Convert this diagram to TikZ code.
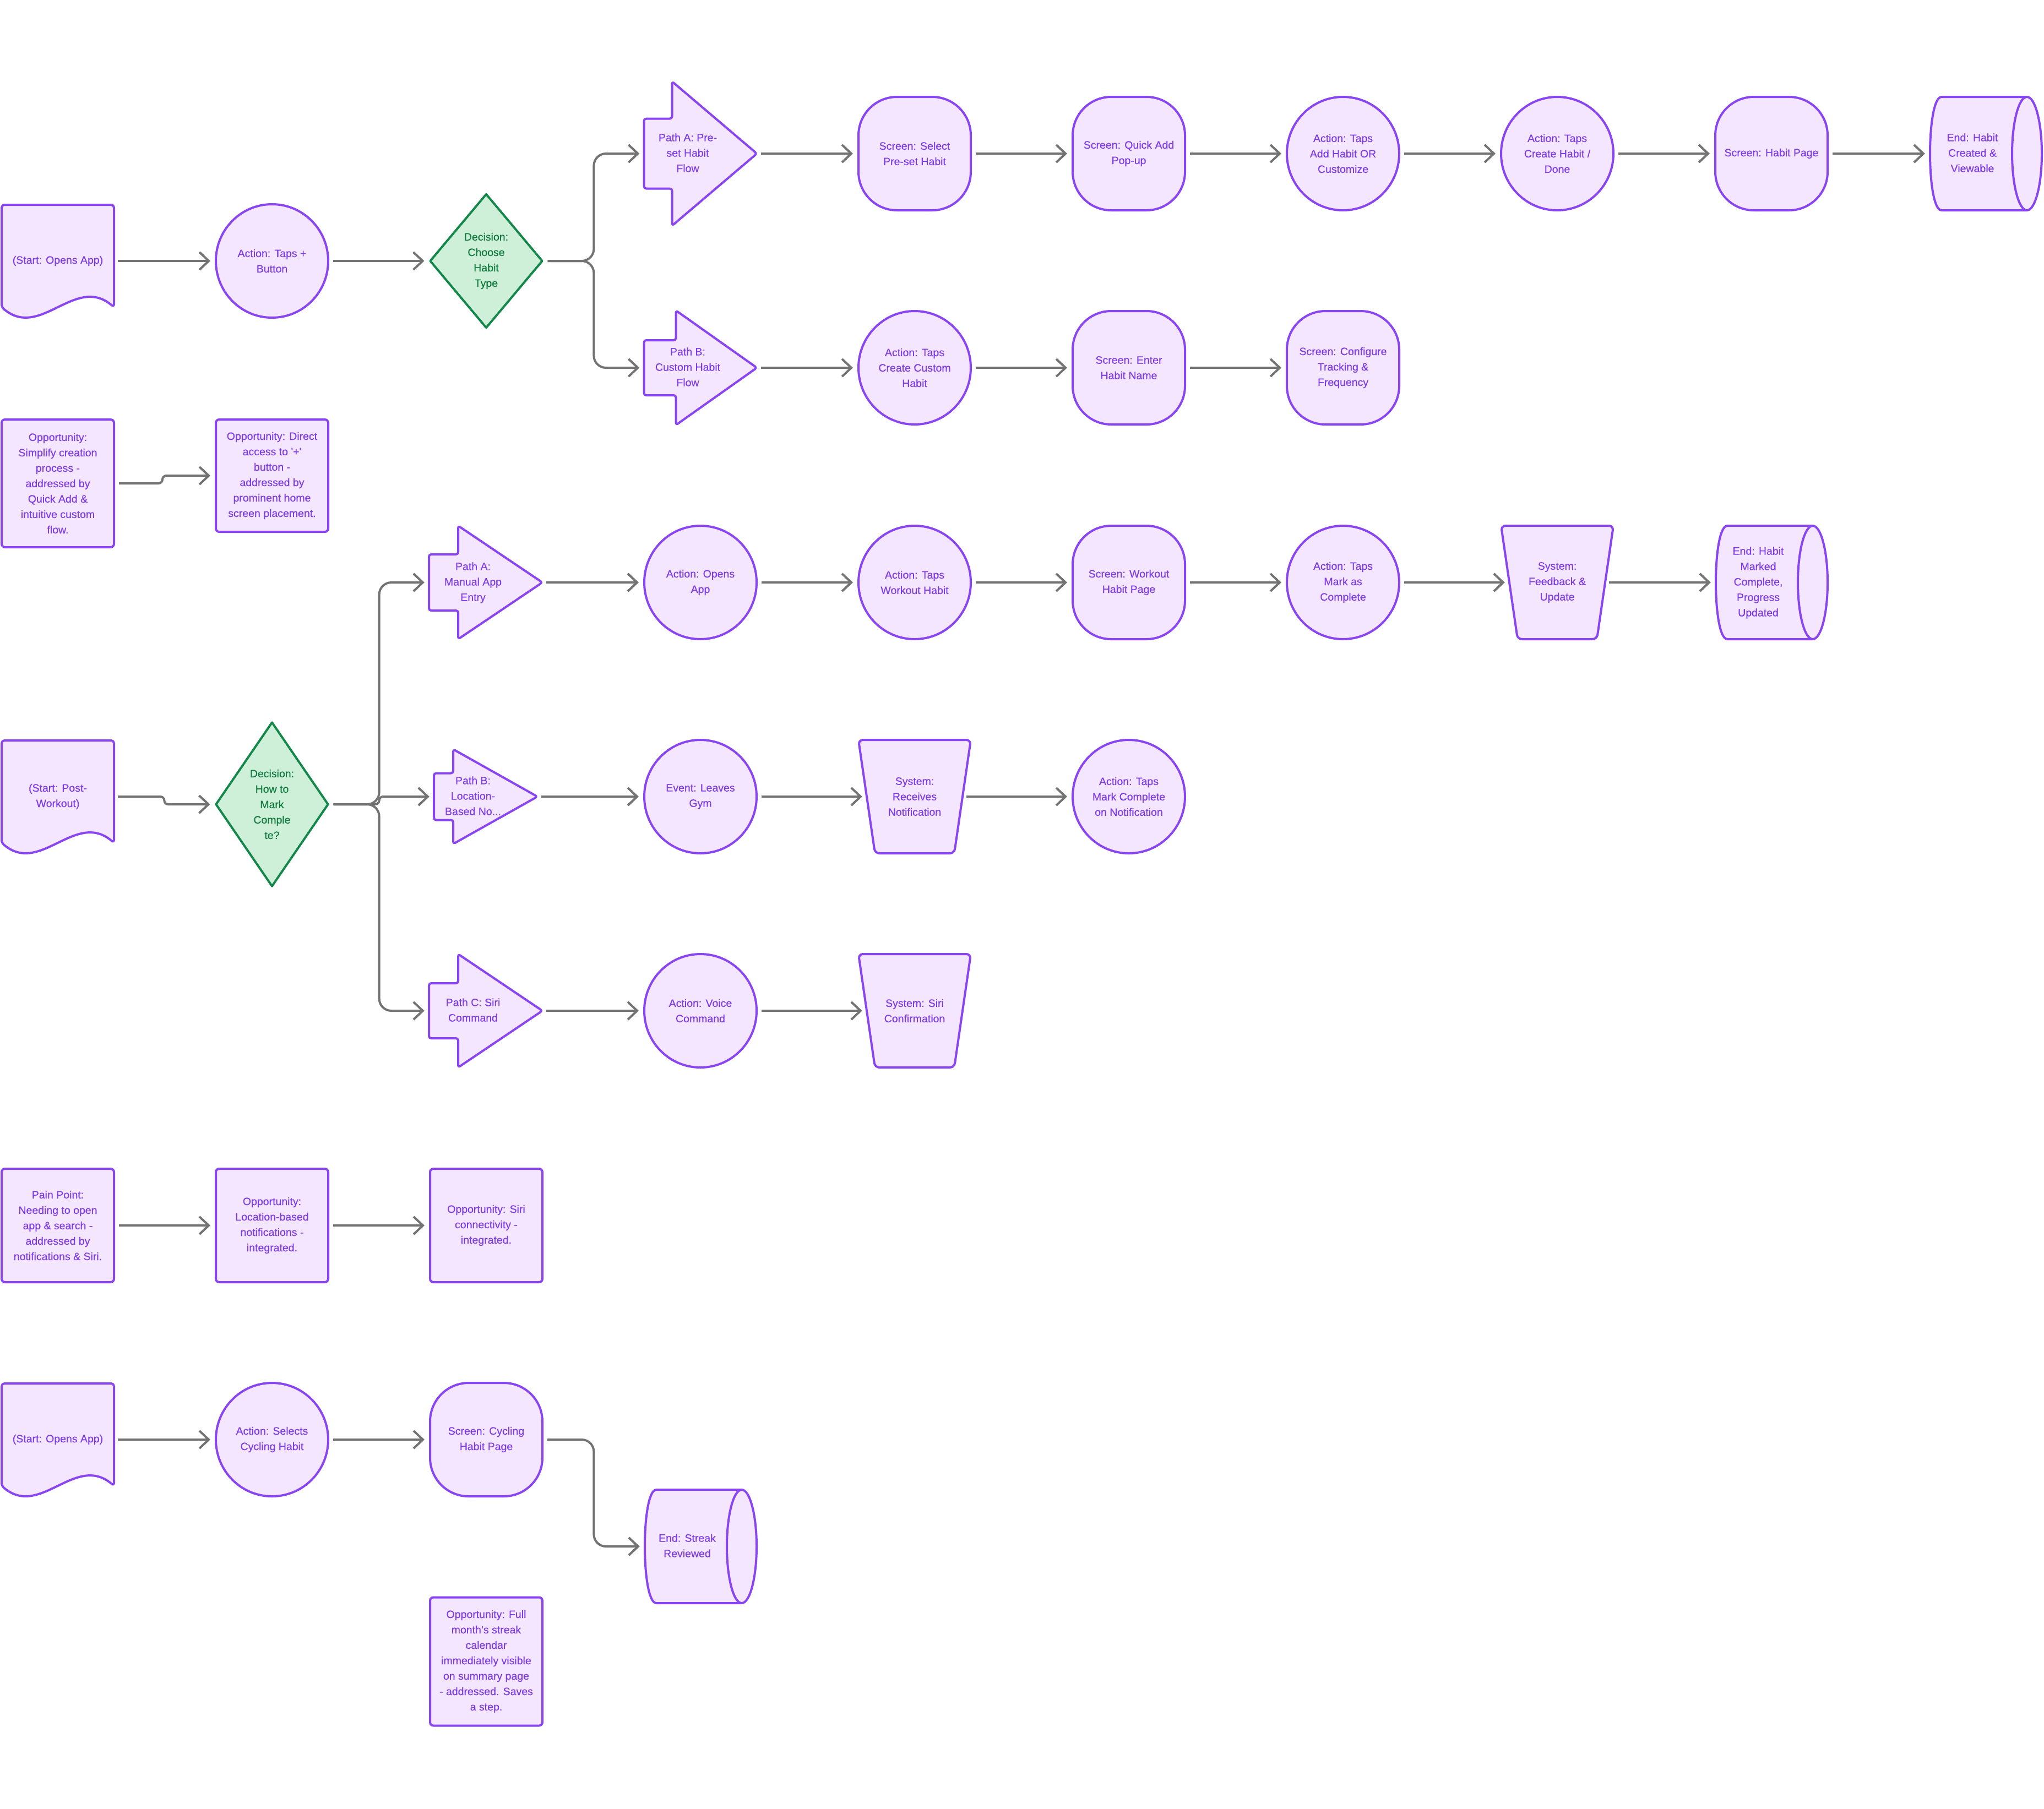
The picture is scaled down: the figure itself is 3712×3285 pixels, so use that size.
\documentclass[tikz,border=0pt]{standalone}
\usepackage{fontspec}
\setmainfont{Liberation Sans}
\newfontfamily\diagfont{Liberation Sans}[FakeBold=0.35]
\usetikzlibrary{shapes.geometric,arrows.meta,calc}
\definecolor{vborder}{HTML}{8A45F3}
\definecolor{vfill}{HTML}{F3E6FE}
\definecolor{vtext}{HTML}{7D3CE6}
\definecolor{gborder}{HTML}{13884A}
\definecolor{gfill}{HTML}{CFF0D8}
\definecolor{gtext}{HTML}{0F7A3D}
\definecolor{conn}{HTML}{737373}
\tikzset{
  base/.style={font=\diagfont\fontsize{19.5}{28}\selectfont, align=center, inner sep=0pt, text=vtext},
  shapeline/.style={draw=vborder, fill=vfill, line width=4pt, line join=round},
  circ/.style={base, shapeline, ellipse, minimum width=204pt, minimum height=206pt},
  scr/.style={base, shapeline, rectangle, rounded corners=70pt, minimum width=204pt, minimum height=206pt},
  note/.style={base, shapeline, rectangle, rounded corners=6pt, minimum width=204pt},
  decide/.style={base, diamond, draw=gborder, fill=gfill, line width=4pt, line join=round, text=gtext, minimum width=205pt},
  holder/.style={base, rectangle, minimum width=204pt, minimum height=206pt},
  link/.style={draw=conn, line width=4pt, -{Straight Barb[length=17pt,width=32pt]}, shorten <=7pt, shorten >=8pt, rounded corners=22pt},
}
% #1 name, #2 cx, #3 cy, #4 halfW, #5 halfH, #6 shaft half height, #7 shaft width, #8 text
\newcommand\blockarrow[8]{%
  \filldraw[shapeline, rounded corners=4pt] (#2-#4,#3-#6) -- (#2-#4+#7,#3-#6) -- (#2-#4+#7,#3-#5) -- (#2+#4,#3) -- (#2-#4+#7,#3+#5) -- (#2-#4+#7,#3+#6) -- (#2-#4,#3+#6) -- cycle;
  \node[holder, minimum width=2*#4pt, minimum height=2*#5pt] (#1) at (#2,#3) {\begin{tabular}{@{}c@{}}#8\end{tabular}\hspace*{46pt}};
}
\newcommand\docnode[4]{%
  \filldraw[shapeline, rounded corners=5pt] (#2-102,#3-102) -- (#2+102,#3-102) -- (#2+102,#3+84) .. controls (#2+32,#3+24) and (#2-32,#3+144) .. (#2-102,#3+84) -- cycle;
  \node[holder, minimum height=204pt] (#1) at (#2,#3) {#4};
}
\newcommand\cylnode[4]{%
  \filldraw[shapeline] (#2+75,#3-103) -- (#2-80,#3-103) .. controls (#2-108,#3-103) and (#2-108,#3+103) .. (#2-80,#3+103) -- (#2+75,#3+103);
  \filldraw[shapeline] (#2+75,#3) ellipse [x radius=27pt, y radius=103pt];
  \node[holder] (#1) at (#2,#3) {\begin{tabular}{@{}c@{}}#4\end{tabular}\hspace*{48pt}};
}
\newcommand\trapnode[4]{%
  \filldraw[shapeline, rounded corners=8pt] (#2-102,#3-103) -- (#2+102,#3-103) -- (#2+72,#3+103) -- (#2-72,#3+103) -- cycle;
  \node[holder, minimum width=174pt] (#1) at (#2,#3) {#4};
}
\begin{document}
\begin{tikzpicture}[x=1pt,y=-1pt]
\fill[white] (0,0) rectangle (3712,3285);
\useasboundingbox (0,0) rectangle (3712,3285);

% ---------- Section 1: create habit ----------
\docnode{s1}{105}{474}{(Start: Opens App)}
\node[circ] (a1) at (494,474) {Action: Taps +\\Button};
\node[decide, minimum height=244pt, aspect=0.84] (d1) at (883,474) {Decision:\\Choose\\Habit\\Type};
\blockarrow{pA}{1272}{279}{102.5}{131}{63.5}{51}{Path A: Pre-\\set Habit\\Flow}
\blockarrow{pB}{1272}{668}{102.5}{104}{50}{58}{Path B:\\Custom Habit\\Flow}
\node[scr] (sc1) at (1661,279) {Screen: Select\\Pre-set Habit};
\node[scr] (sc2) at (2050,279) {Screen: Quick Add\\Pop-up};
\node[circ] (a2) at (2439,279) {Action: Taps\\Add Habit OR\\Customize};
\node[circ] (a3) at (2828,279) {Action: Taps\\Create Habit /\\Done};
\node[scr] (sc3) at (3217,279) {Screen: Habit Page};
\cylnode{e1}{3606}{279}{End: Habit\\Created \&\\Viewable}
\node[circ] (a4) at (1661,668) {Action: Taps\\Create Custom\\Habit};
\node[scr] (sc4) at (2050,668) {Screen: Enter\\Habit Name};
\node[scr] (sc5) at (2439,668) {Screen: Configure\\Tracking \&\\Frequency};

\node[note, minimum height=232pt] (o1) at (105,878) {Opportunity:\\Simplify creation\\process -\\addressed by\\Quick Add \&\\intuitive custom\\flow.};
\node[note, minimum height=204pt] (o2) at (494,864) {Opportunity: Direct\\access to \textquotesingle+\textquotesingle\\button -\\addressed by\\prominent home\\screen placement.};

% ---------- Section 2: mark complete ----------
\blockarrow{pM}{882}{1058}{103}{103}{51}{53}{Path A:\\Manual App\\Entry}
\node[circ] (a5) at (1272,1058) {Action: Opens\\App};
\node[circ] (a6) at (1661,1058) {Action: Taps\\Workout Habit};
\node[scr] (sc6) at (2050,1058) {Screen: Workout\\Habit Page};
\node[circ] (a7) at (2439,1058) {Action: Taps\\Mark as\\Complete};
\trapnode{sys1}{2828}{1058}{System:\\Feedback \&\\Update}
\cylnode{e2}{3217}{1058}{End: Habit\\Marked\\Complete,\\Progress\\Updated}

\docnode{s2}{105}{1447}{(Start: Post-\\Workout)}
\node[decide, minimum height=299pt, aspect=0.686] (d2) at (494,1461) {Decision:\\How to\\Mark\\Comple\\te?};
\blockarrow{pL}{882}{1447}{94}{86}{42.5}{35}{Path B:\\Location-\\Based No...}
\node[circ] (ev) at (1272,1447) {Event: Leaves\\Gym};
\trapnode{sys2}{1661}{1447}{System:\\Receives\\Notification}
\node[circ] (a8) at (2050,1447) {Action: Taps\\Mark Complete\\on Notification};

\blockarrow{pS}{882}{1836}{103}{103}{50}{53}{Path C: Siri\\Command}
\node[circ] (a9) at (1272,1836) {Action: Voice\\Command};
\trapnode{sys3}{1661}{1836}{System: Siri\\Confirmation}

% ---------- Section 3: pain points ----------
\node[note, minimum height=206pt] (pp) at (105,2226) {Pain Point:\\Needing to open\\app \& search -\\addressed by\\notifications \& Siri.};
\node[note, minimum height=206pt] (o3) at (494,2226) {Opportunity:\\Location-based\\notifications -\\integrated.};
\node[note, minimum height=206pt] (o4) at (883,2226) {Opportunity: Siri\\connectivity -\\integrated.};

% ---------- Section 4: cycling ----------
\docnode{s3}{105}{2615}{(Start: Opens App)}
\node[circ] (a10) at (494,2615) {Action: Selects\\Cycling Habit};
\node[scr] (sc7) at (883,2615) {Screen: Cycling\\Habit Page};
\cylnode{e3}{1272}{2809}{End: Streak\\Reviewed}
\node[note, minimum height=233pt] (o5) at (883,3018) {Opportunity: Full\\month’s streak\\calendar\\immediately visible\\on summary page\\- addressed. Saves\\a step.};

% ---------- Connectors ----------
\draw[link] (s1.east) -- (a1.west);
\draw[link] (a1.east) -- (d1.west);
\draw[link] (d1.east) -- ($(d1.east)!0.5!(pA.west |- d1.east)$) |- (pA.west);
\draw[link] (d1.east) -- ($(d1.east)!0.5!(pB.west |- d1.east)$) |- (pB.west);
\draw[link] (pA.east) -- (sc1.west);
\draw[link] (sc1.east) -- (sc2.west);
\draw[link] (sc2.east) -- (a2.west);
\draw[link] (a2.east) -- (a3.west);
\draw[link] (a3.east) -- (sc3.west);
\draw[link] (sc3.east) -- (e1.west);
\draw[link] (pB.east) -- (a4.west);
\draw[link] (a4.east) -- (sc4.west);
\draw[link] (sc4.east) -- (sc5.west);
\draw[link, rounded corners=7pt] (o1.east) -| ($(o2.west)+(-95,0)$) -- (o2.west);

\draw[link, rounded corners=7pt] (s2.east) -- ($(s2.east)!0.5!(d2.west |- s2.east)$) |- (d2.west);
\draw[link] (d2.east) -- ($(d2.east)!0.5!(pM.west |- d2.east)$) |- (pM.west);
\draw[link, rounded corners=7pt] (d2.east) -- ($(d2.east)!0.5!(pM.west |- d2.east)$) |- (pL.west);
\draw[link] (d2.east) -- ($(d2.east)!0.5!(pS.west |- d2.east)$) |- (pS.west);
\draw[link] (pM.east) -- (a5.west);
\draw[link] (a5.east) -- (a6.west);
\draw[link] (a6.east) -- (sc6.west);
\draw[link] (sc6.east) -- (a7.west);
\draw[link] (a7.east) -- (sys1.west);
\draw[link] (sys1.east) -- (e2.west);
\draw[link] (pL.east) -- (ev.west);
\draw[link] (ev.east) -- (sys2.west);
\draw[link] (sys2.east) -- (a8.west);
\draw[link] (pS.east) -- (a9.west);
\draw[link] (a9.east) -- (sys3.west);

\draw[link] (pp.east) -- (o3.west);
\draw[link] (o3.east) -- (o4.west);

\draw[link] (s3.east) -- (a10.west);
\draw[link] (a10.east) -- (sc7.west);
\draw[link] (sc7.east) -- ($(sc7.east)!0.5!(e3.west |- sc7.east)$) |- (e3.west);
\end{tikzpicture}
\end{document}
